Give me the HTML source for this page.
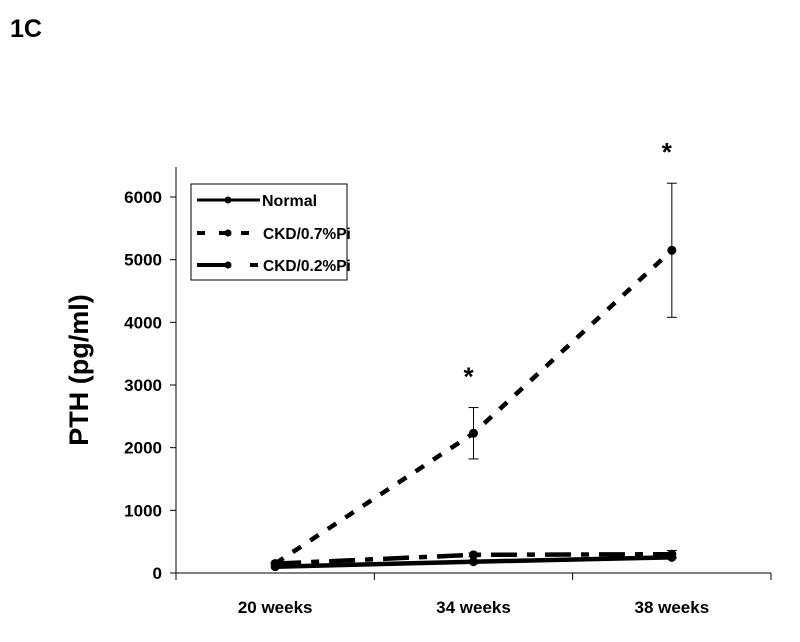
<!DOCTYPE html>
<html><head><meta charset="utf-8"><style>
body{margin:0;background:#fff;}
svg{display:block;font-family:"Liberation Sans",Arial,sans-serif;font-weight:bold;}
</style></head><body>
<svg width="800" height="642" viewBox="0 0 800 642">
<text x="10" y="37" font-size="25">1C</text>
<text transform="translate(88,370) rotate(-90)" text-anchor="middle" font-size="27">PTH (pg/ml)</text>
<g id="axes"></g>
<g id="series"></g>
<g>
<rect x="191" y="184" width="156" height="96" fill="#fff" stroke="#000" stroke-width="1"/>
<g>
<line x1="197" y1="200" x2="260" y2="200" stroke="#000" stroke-width="3"/><circle cx="228" cy="200" r="3.5"/>
<text x="262" y="206" font-size="16">Normal</text></g>
<g>
<line x1="197" y1="233" x2="260" y2="233" stroke="#000" stroke-width="4" stroke-dasharray="8,14"/><circle cx="228" cy="233" r="3.5"/>
<text x="263" y="239" font-size="15.5">CKD/0.7%Pi</text></g>
<g>
<line x1="197" y1="265" x2="228" y2="265" stroke="#000" stroke-width="4"/><line x1="250" y1="265" x2="258" y2="265" stroke="#000" stroke-width="4"/><circle cx="228" cy="265" r="3.5"/>
<text x="263" y="271" font-size="15.5">CKD/0.2%Pi</text></g>
</g>
</svg>
<script>
const categories=["20 weeks","34 weeks","38 weeks"];
const yTicks=[0,1000,2000,3000,4000,5000,6000];
const normal=[100,180,250];
const ckd07=[150,2230,5150];
const ckd07Err=[0,410,1070];
const ckd02=[150,290,300];
const ckd02Err=[0,30,60];
const stars=[false,true,true];
const NS="http://www.w3.org/2000/svg";
const x0=176,x1=771,y0=573,yTop=197;
const band=(x1-x0)/categories.length;
const X=i=>x0+band*(i+0.5);
const Y=v=>y0-(v/6000)*(y0-yTop);
function mk(t,a,p){const e=document.createElementNS(NS,t);for(const k in a)e.setAttribute(k,a[k]);p.appendChild(e);return e;}
const ax=document.getElementById('axes');
mk('line',{x1:x0,y1:167,x2:x0,y2:y0,stroke:'#000','stroke-width':1},ax);
mk('line',{x1:x0,y1:y0,x2:x1,y2:y0,stroke:'#000','stroke-width':1},ax);
yTicks.forEach(v=>{
 mk('line',{x1:x0-6,y1:Y(v),x2:x0,y2:Y(v),stroke:'#000'},ax);
 const t=mk('text',{x:x0-14,y:Y(v)+6,'text-anchor':'end','font-size':17},ax);t.textContent=v;
 
 
});
for(let i=0;i<=categories.length;i++)mk('line',{x1:x0+band*i,y1:y0,x2:x0+band*i,y2:y0+7,stroke:'#000'},ax);
categories.forEach((c,i)=>{
 const t=mk('text',{x:X(i),y:613,'text-anchor':'middle','font-size':17},ax);t.textContent=c;
 
 
});
const sg=document.getElementById('series');
function series(vals,err,dash,name){
 const g=mk('g',{},sg);
 
 
 mk('polyline',{points:vals.map((v,i)=>X(i)+','+Y(v)).join(' '),fill:'none',stroke:'#000','stroke-width':4.5,'stroke-dasharray':dash},g);
 vals.forEach((v,i)=>{
  if(err&&err[i]>0){
   const e=err[i];
   mk('line',{x1:X(i),y1:Y(v-e),x2:X(i),y2:Y(v+e),stroke:'#000','stroke-width':1},g);
   mk('line',{x1:X(i)-5,y1:Y(v-e),x2:X(i)+5,y2:Y(v-e),stroke:'#000','stroke-width':1},g);
   mk('line',{x1:X(i)-5,y1:Y(v+e),x2:X(i)+5,y2:Y(v+e),stroke:'#000','stroke-width':1},g);
  }
  const c=mk('circle',{cx:X(i),cy:Y(v),r:4.5},g);
  
  
 });
}
series(normal,null,'none','series-normal');
series(ckd02,ckd02Err,'26,10,8,10','series-ckd-0-2');
series(ckd07,ckd07Err,'10,11','series-ckd-0-7');
stars.forEach((s,i)=>{if(!s)return;
 const t=mk('text',{x:X(i)-5,y:Y(ckd07[i]+ckd07Err[i])-22,'text-anchor':'middle','font-size':26},sg);t.textContent='*';
 
 
});
</script>
</body></html>
